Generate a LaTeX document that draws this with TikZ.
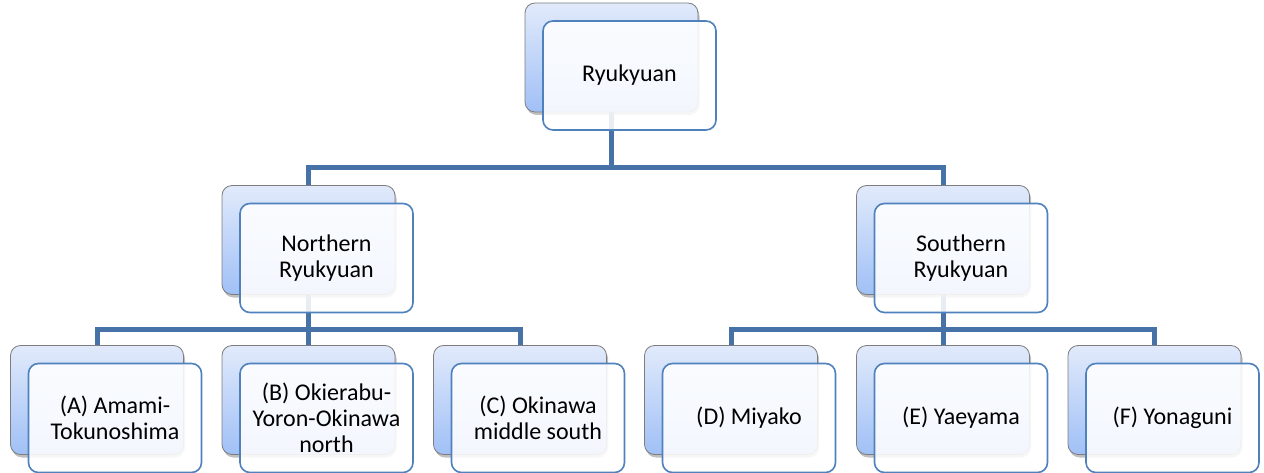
\documentclass[tikz,border=0pt]{standalone}
\usepackage{fontspec}
\setmainfont{Carlito}
\usetikzlibrary{positioning,shadows,backgrounds}
\definecolor{linkblue}{RGB}{71,114,168}
\definecolor{frontblue}{RGB}{79,129,189}
\definecolor{backtop}{RGB}{225,234,251}
\definecolor{backbottom}{RGB}{160,192,246}
\definecolor{backline}{RGB}{125,125,125}
\tikzset{
  backbox/.style={draw=backline, line width=0.8pt, rounded corners=10pt,
    top color=backtop, bottom color=backbottom,
    minimum width=173pt, minimum height=109pt, inner sep=0pt,
    drop shadow={opacity=0.5, shadow xshift=1.5pt, shadow yshift=-3pt}},
  frontbox/.style={draw=frontblue, line width=1.6pt, rounded corners=10pt,
    fill=white, fill opacity=0.88, text opacity=1,
    minimum width=173pt, minimum height=109pt, inner sep=0pt, align=center,
    font=\fontsize{24}{26}\selectfont},
  link/.style={draw=linkblue, line width=5pt}
}
\begin{document}
\begin{tikzpicture}[x=1pt,y=-1pt]
  \useasboundingbox (0,0) rectangle (1264,473);
  % top
  \node[backbox] (ryu) at (611.5,57.5) {};
  \node[frontbox] (ryu-f) at ([shift={(18,18)}]ryu.center) {Ryukyuan};
  % second row
  \node[backbox] (north) at (308.5,240) {};
  \node[frontbox] (north-f) at ([shift={(18,18)}]north.center) {Northern\\Ryukyuan};
  \node[backbox] (south) at (943,240) {};
  \node[frontbox] (south-f) at ([shift={(18,18)}]south.center) {Southern\\Ryukyuan};
  % leaves
  \foreach \name/\x/\txt in {amami/97/{(A) Amami-\\Tokunoshima},
      okierabu/308.5/{(B) Okierabu-\\Yoron-Okinawa\\north},
      okinawa/520/{(C) Okinawa\\middle south},
      miyako/731/{(D) Miyako},
      yaeyama/943/{(E) Yaeyama},
      yonaguni/1154.5/{(F) Yonaguni}}{
    \node[backbox] (\name) at (\x,400) {};
    \node[frontbox] (\name-f) at ([shift={(18,18)}]\name.center) {\txt};
  }
  % connectors
  \coordinate (ryu-j) at (611.5,168);
  \coordinate (north-j) at (308.5,329);
  \coordinate (south-j) at (943,329);
  \begin{pgfonlayer}{background}
    \draw[link] (ryu.south) -- (ryu-j);
    \draw[link] (north.north) |- (ryu-j);
    \draw[link] (south.north) |- (ryu-j);
    \draw[link] (north.south) -- (north-j);
    \draw[link] (amami.north) |- (north-j);
    \draw[link] (okierabu.north) -- (north-j);
    \draw[link] (okinawa.north) |- (north-j);
    \draw[link] (south.south) -- (south-j);
    \draw[link] (miyako.north) |- (south-j);
    \draw[link] (yaeyama.north) -- (south-j);
    \draw[link] (yonaguni.north) |- (south-j);
  \end{pgfonlayer}
\end{tikzpicture}
\end{document}
